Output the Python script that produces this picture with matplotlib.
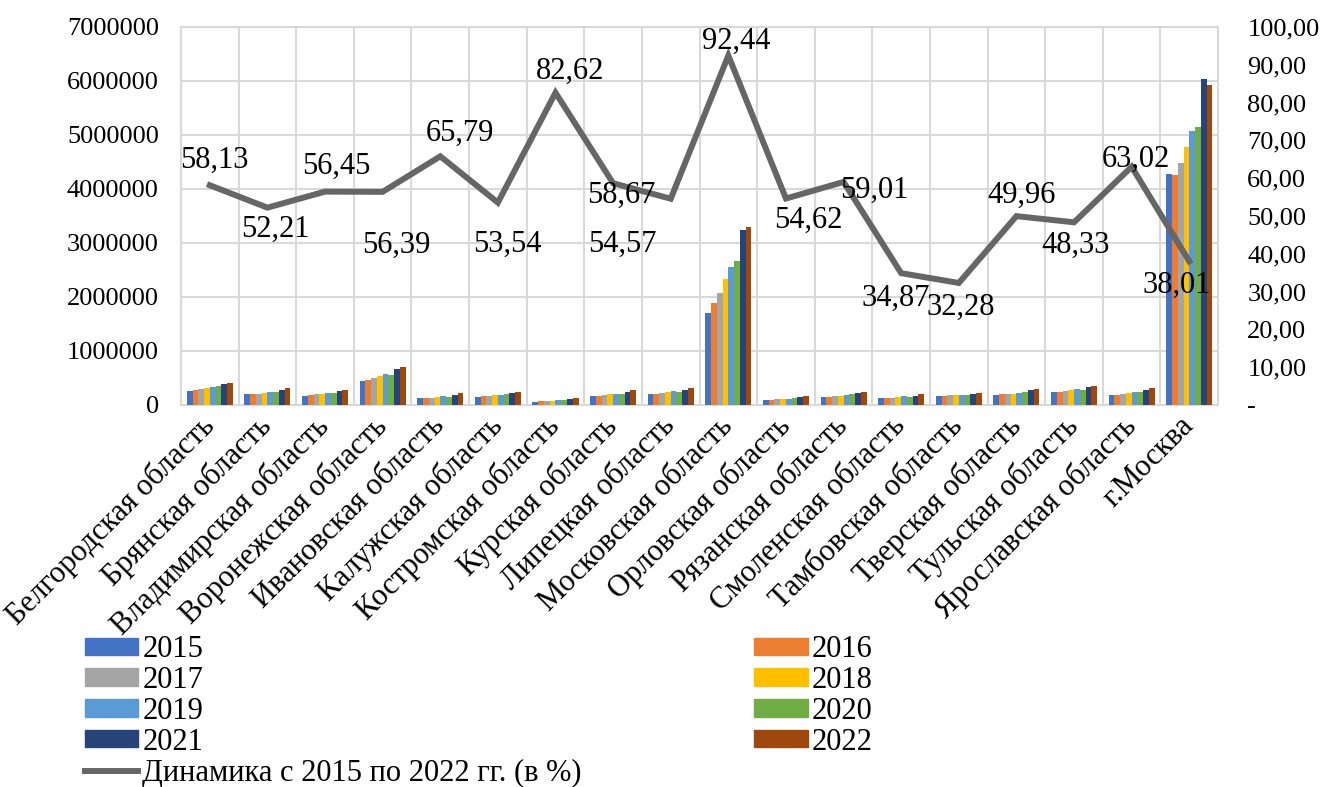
import numpy as np
import matplotlib.pyplot as plt
from matplotlib.lines import Line2D
from matplotlib.patches import Patch

plt.rcParams['font.family'] = ['Liberation Serif', 'DejaVu Serif']

regions = ["Белгородская область", "Брянская область", "Владимирская область",
           "Воронежская область", "Ивановская область", "Калужская область",
           "Костромская область", "Курская область", "Липецкая область",
           "Московская область", "Орловская область", "Рязанская область",
           "Смоленская область", "Тамбовская область", "Тверская область",
           "Тульская область", "Ярославская область", "г.Москва"]

years = ["2015", "2016", "2017", "2018", "2019", "2020", "2021", "2022"]

# значения по годам (каждый список - регионы по порядку)
v2015 = [253000, 198000, 173000, 444000, 130000, 148000, 62000, 160000, 204000,
         1710000, 93000, 148000, 136000, 160000, 191000, 241000, 185000, 4270000]
v2016 = [272000, 198000, 179000, 463000, 125000, 160000, 74000, 167000, 210000,
         1880000, 99000, 154000, 136000, 167000, 204000, 241000, 191000, 4250000]
v2017 = [296000, 210000, 198000, 500000, 130000, 167000, 74000, 185000, 222000,
         2070000, 111000, 160000, 136000, 185000, 198000, 259000, 210000, 4490000]
v2018 = [315000, 228000, 204000, 531000, 148000, 179000, 80000, 198000, 241000,
         2330000, 111000, 167000, 148000, 185000, 210000, 272000, 222000, 4770000]
v2019 = [333000, 247000, 222000, 574000, 167000, 191000, 86000, 210000, 259000,
         2560000, 117000, 191000, 167000, 185000, 228000, 296000, 235000, 5070000]
v2020 = [352000, 247000, 222000, 562000, 154000, 204000, 93000, 210000, 247000,
         2660000, 123000, 204000, 154000, 179000, 235000, 278000, 241000, 5150000]
v2021 = [383000, 278000, 253000, 667000, 191000, 222000, 117000, 241000, 284000,
         3240000, 148000, 222000, 173000, 204000, 278000, 327000, 284000, 6030000]
v2022 = [414000, 315000, 284000, 704000, 222000, 241000, 136000, 272000, 315000,
         3300000, 160000, 247000, 204000, 222000, 296000, 358000, 315000, 5920000]

dynamics = [58.13, 52.21, 56.45, 56.39, 65.79, 53.54, 82.62, 58.67, 54.57,
            92.44, 54.62, 59.01, 34.87, 32.28, 49.96, 48.33, 63.02, 38.01]

colors = ["#4472C4", "#ED7D31", "#A5A5A5", "#FFC000",
          "#5B9BD5", "#70AD47", "#264478", "#9E480E"]
line_color = "#666666"

# сдвиги подписей (в пикселях)
label_dx = [5, 8, 11, 14, 20, 9, 15, 8, -48, 8, 22, 31, -5, 2, 5, 2, 4, -13]
label_dy = [25, -22, 25, -53, 23, -42, 21, -12, -46, 14, -22, -8, -25, -24, 21, -23, 7, -24]

series = [v2015, v2016, v2017, v2018, v2019, v2020, v2021, v2022]

fig = plt.figure(figsize=(13.24, 7.87), dpi=100)
ax = fig.add_axes([0.1367, 0.4854, 0.7833, 0.4803])
ax2 = ax.twinx()

x = np.arange(len(regions))
bw = 0.1
for k, vals in enumerate(series):
    ax.bar(x + (k - 3.5) * bw, vals, width=bw, color=colors[k], zorder=3)

ax.set_xlim(-0.5, len(regions) - 0.5)
ax.set_ylim(0, 7000000)
ax.set_yticks(np.arange(0, 7000001, 1000000))
ax.set_yticklabels([str(int(v)) for v in np.arange(0, 7000001, 1000000)])
ax.set_xticks(x)
ax.set_xticklabels(regions, rotation=45, ha='right', va='center',
                   rotation_mode='anchor')
ax.set_xticks(np.arange(-0.5, len(regions), 1), minor=True)
ax.grid(True, which='minor', axis='x', color='#d9d9d9', lw=1.5, zorder=0)
ax.grid(True, which='major', axis='y', color='#d9d9d9', lw=1.5, zorder=0)
ax.tick_params(axis='x', which='both', length=0, labelsize=22, pad=12)
ax.tick_params(axis='y', length=0, labelsize=19, pad=16)
for s in ax.spines.values():
    s.set_color('#d9d9d9')
    s.set_linewidth(1.5)
for s in ax2.spines.values():
    s.set_visible(False)

ax2.plot(x, dynamics, color=line_color, lw=4.3, zorder=5, solid_joinstyle='miter')
ax2.set_ylim(0, 100)
ax2.set_yticks(np.arange(0, 101, 10))
ax2.set_yticklabels(['-'] + [f"{v:.2f}".replace('.', ',') for v in np.arange(10, 101, 10)])
ax2.tick_params(axis='y', length=0, labelsize=19, pad=21)

for i, v in enumerate(dynamics):
    ax2.annotate(f"{v:.2f}".replace('.', ','), (x[i], v),
                 xytext=(label_dx[i], label_dy[i]), textcoords='offset pixels',
                 ha='center', va='center', fontsize=22, zorder=6)

handles = [Patch(color=colors[0]), Patch(color=colors[2]), Patch(color=colors[4]),
           Patch(color=colors[6]), Line2D([], [], color=line_color, lw=4.3),
           Patch(color=colors[1]), Patch(color=colors[3]), Patch(color=colors[5]),
           Patch(color=colors[7])]
labels = ["2015", "2017", "2019", "2021", "Динамика с 2015 по 2022 гг. (в %)",
          "2016", "2018", "2020", "2022"]
fig.legend(handles, labels, ncol=2, loc='upper left', bbox_to_anchor=(0.064, 0.193),
           frameon=False, fontsize=22, handlelength=1.75, handleheight=0.5,
           handletextpad=0.13, labelspacing=0.06, columnspacing=5.65,
           borderpad=0, borderaxespad=0)

fig.savefig('out.png', dpi=100)
